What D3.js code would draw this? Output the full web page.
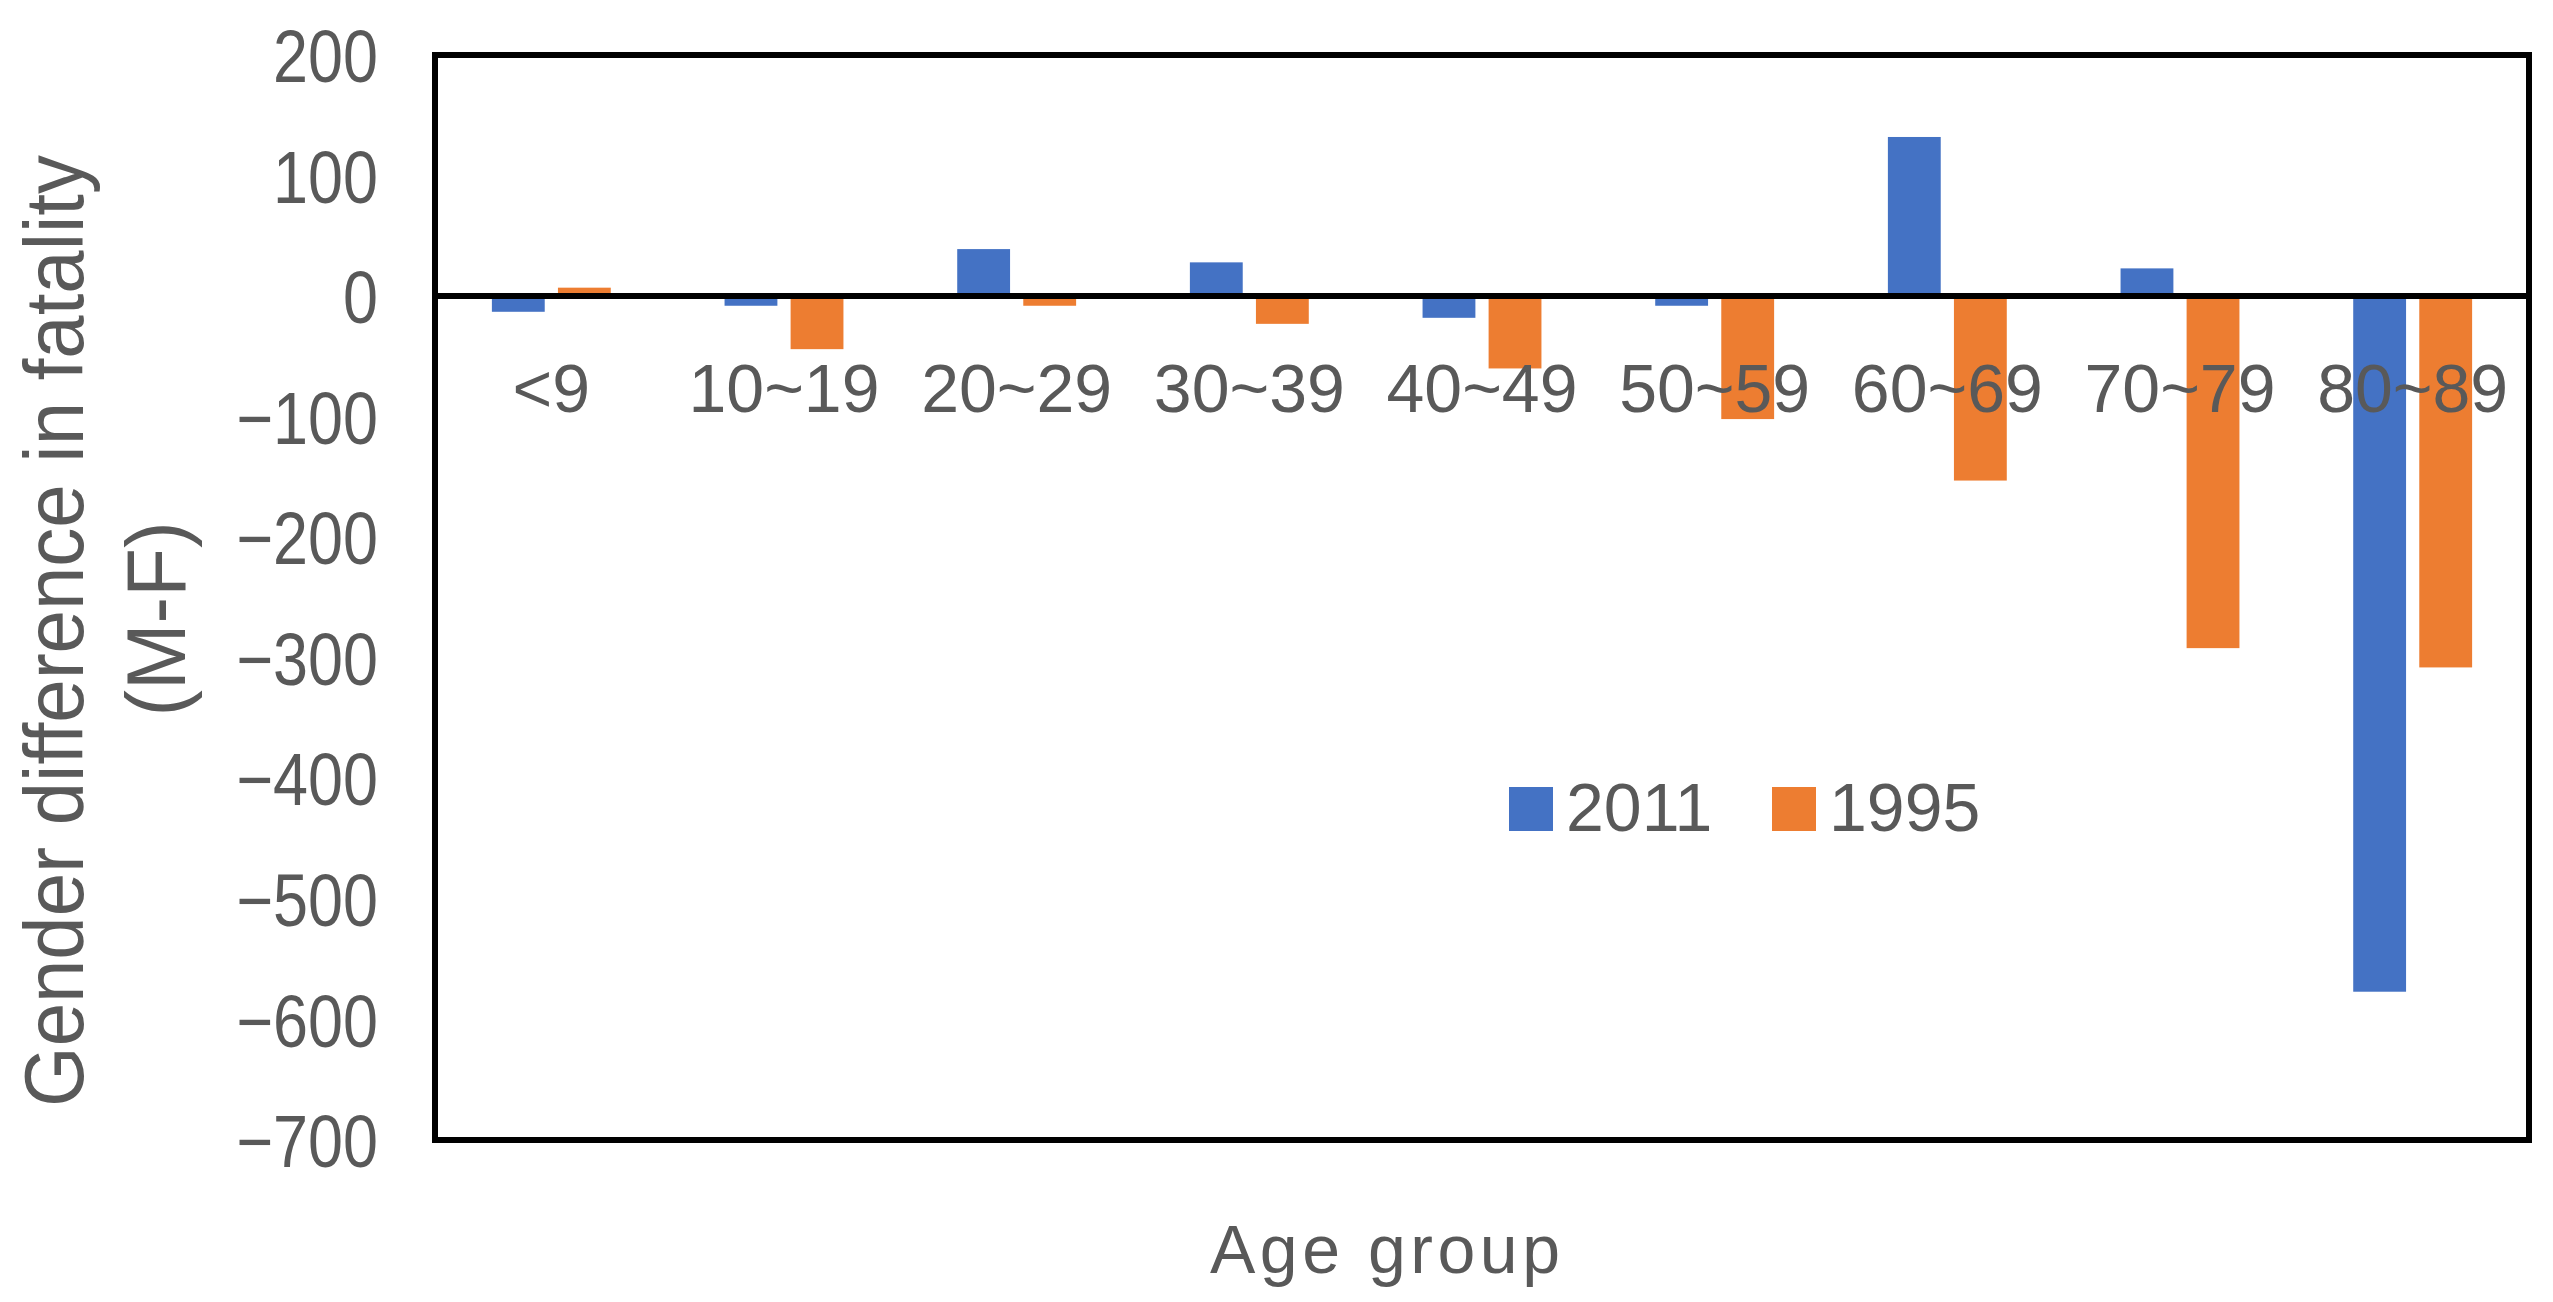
<!DOCTYPE html>
<html>
<head>
<meta charset="utf-8">
<script src="https://cdn.jsdelivr.net/npm/d3@7"></script>
<style>
  html, body { margin: 0; padding: 0; background: #ffffff; }
  svg { display: block; }
  text { font-family: "Liberation Sans", Arial, sans-serif; fill: #595959; }
</style>
</head>
<body>
<svg id="chart" width="2553" height="1302"></svg>
<script>
const categories = ["<9", "10~19", "20~29", "30~39", "40~49", "50~59", "60~69", "70~79", "80~89"];
const seriesNames = ["2011", "1995"];
const values2011 = [-13, -8, 39, 28, -18, -8, 132, 23, -577];
const values1995 = [7, -44, -8, -23, -60, -102, -153, -292, -308];
const yTickValues = [200, 100, 0, -100, -200, -300, -400, -500, -600, -700];
const seriesColors = ["#4472C4", "#ED7D31"];
const yTitleLines = ["Gender difference in fatality", "(M-F)"];
const xTitle = "Age group";

const svg = d3.select("#chart");
const W = 2553, H = 1302;
svg.append("rect").attr("width", W).attr("height", H).attr("fill", "#ffffff");

const plot = { left: 435, right: 2529, top: 55, bottom: 1140 };

const x0 = d3.scaleBand()
  .domain(categories)
  .range([plot.left, plot.right])
  .paddingInner(0.489)
  .paddingOuter(0.489 / 2);

const x1 = d3.scaleBand()
  .domain(seriesNames)
  .range([0, x0.bandwidth()])
  .paddingInner(0.2)
  .paddingOuter(0);

const y = d3.scaleLinear().domain([-700, 200]).range([plot.bottom, plot.top]);

const seriesData = [values2011, values1995];
const rows = [];
categories.forEach((c, i) => {
  seriesNames.forEach((s, j) => {
    rows.push({ cat: c, series: s, value: seriesData[j][i], color: seriesColors[j] });
  });
});

// bars
svg.append("g").selectAll("rect")
  .data(rows)
  .join("rect")
  .attr("x", d => x0(d.cat) + x1(d.series))
  .attr("width", x1.bandwidth())
  .attr("y", d => y(Math.max(0, d.value)))
  .attr("height", d => Math.abs(y(d.value) - y(0)))
  .attr("fill", d => d.color);

// zero line (category axis)
svg.append("line")
  .attr("x1", plot.left).attr("x2", plot.right)
  .attr("y1", y(0)).attr("y2", y(0))
  .attr("stroke", "#000").attr("stroke-width", 6);

// frame
svg.append("rect")
  .attr("x", plot.left).attr("y", plot.top)
  .attr("width", plot.right - plot.left)
  .attr("height", plot.bottom - plot.top)
  .attr("fill", "none").attr("stroke", "#000").attr("stroke-width", 6);

// y axis labels
const yAxis = d3.axisLeft(y).tickValues(yTickValues).tickSize(0).tickPadding(0);
const yg = svg.append("g").attr("transform", "translate(378,0)").call(yAxis);
yg.select(".domain").remove();
yg.selectAll("text")
  .attr("x", 0)
  .attr("dy", "0.36em")
  .attr("transform", "scale(0.85,1)")
  .style("font-family", "'Liberation Sans', Arial, sans-serif")
  .style("font-size", "74px")
  .style("fill", "#595959");

// x category labels (inside plot below zero line)
const xAxis = d3.axisBottom(x0).tickSize(0).tickPadding(0);
const xg = svg.append("g").attr("transform", "translate(0,412)").call(xAxis);
xg.select(".domain").remove();
xg.selectAll("text")
  .attr("y", 0)
  .attr("dy", 0)
  .style("font-family", "'Liberation Sans', Arial, sans-serif")
  .style("font-size", "68px")
  .style("fill", "#595959");

// y title
const yt = svg.append("g");
yt.append("text")
  .attr("transform", "translate(83,631) rotate(-90)")
  .attr("text-anchor", "middle")
  .attr("textLength", 952)
  .attr("lengthAdjust", "spacingAndGlyphs")
  .style("font-size", "84px")
  .text(yTitleLines[0]);
yt.append("text")
  .attr("transform", "translate(185,619) rotate(-90)")
  .attr("text-anchor", "middle")
  .attr("textLength", 195)
  .attr("lengthAdjust", "spacingAndGlyphs")
  .style("font-size", "84px")
  .text(yTitleLines[1]);

// x title
svg.append("text")
  .attr("x", 1210).attr("y", 1273)
  .attr("textLength", 350)
  .attr("lengthAdjust", "spacing")
  .style("font-size", "68px")
  .text(xTitle);

// legend
const legendX = [1509, 1772];
const lg = svg.append("g");
seriesNames.forEach((s, j) => {
  lg.append("rect")
    .attr("x", legendX[j]).attr("y", 787)
    .attr("width", 44).attr("height", 44)
    .attr("fill", seriesColors[j]);
  lg.append("text")
    .attr("x", legendX[j] + 57).attr("y", 831)
    .style("font-size", "68px")
    .text(s);
});
</script>
</body>
</html>
